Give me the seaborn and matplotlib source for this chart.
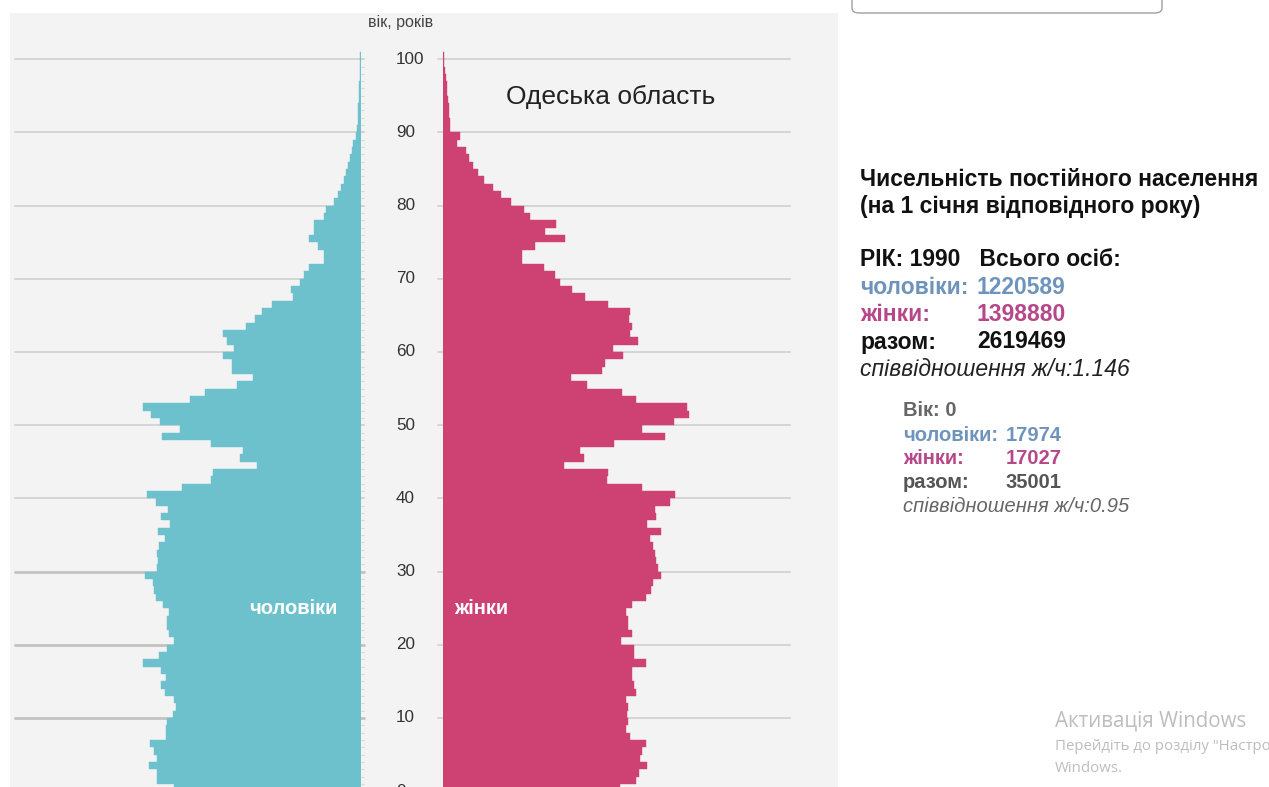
import numpy as np
import pandas as pd
import matplotlib
matplotlib.use("Agg")
import matplotlib.pyplot as plt
import seaborn as sns
from matplotlib.patches import Rectangle, FancyBboxPatch
from matplotlib.transforms import blended_transform_factory

# ---------------- data (Одеська область, 1990) ----------------
ages = list(range(0, 101))
men = [17974, 19620, 19600, 20390, 19670, 19930, 20320, 18810, 18810, 18710,
       18130, 17840, 17980, 18900, 19290, 18810, 19260, 20960, 19420, 18650,
       17980, 18460, 18650, 18710, 18460, 19040, 19740, 19930, 20000, 20800,
       19620, 19520, 19620, 19420, 18900, 19520, 18390, 19290, 18610, 19740,
       20580, 17270, 14450, 14280, 10040, 11620, 11390, 14450, 19160, 17430,
       19360, 20190, 21020, 16470, 15050, 11970, 10370, 12450, 12390, 13260,
       12260, 12900, 13260, 11070, 10210, 9500, 8570, 6580, 6710, 5900,
       5490, 5010, 3590, 3590, 4110, 5010, 4500, 4500, 3530, 3370,
       2570, 2210, 1930, 1670, 1470, 1220, 1030, 870, 740, 510,
       340, 320, 290, 260, 220, 190, 170, 140, 120, 100,
       100]
women = [17027, 18560, 18870, 19670, 18940, 19190, 19580, 17980, 17590, 17790,
         17720, 17840, 17590, 18610, 18420, 18230, 18230, 19520, 18420, 18420,
         17140, 18230, 17790, 17840, 17590, 18170, 19520, 20000, 20250, 21020,
         20700, 20480, 20420, 20190, 19930, 20960, 19670, 20480, 20420, 21860,
         22340, 19130, 15820, 15890, 11620, 13580, 13220, 16440, 21380, 19130,
         22250, 23690, 23530, 18610, 17210, 13870, 12300, 15340, 15570, 17310,
         16400, 18750, 17980, 18230, 17940, 18040, 15860, 13670, 12450, 11300,
         10790, 9730, 7580, 7640, 8860, 11750, 9820, 10850, 8380, 7830,
         6520, 5560, 4840, 3950, 3400, 2920, 2530, 2210, 1320, 1640,
         670, 630, 580, 530, 480, 430, 390, 290, 190, 140,
         100]
grid_ages = list(range(0, 101, 10))
region = "Одеська область"
year = 1990
tot_men, tot_women = 1220589, 1398880
sel_age, sel_men, sel_women = 0, 17974, 17027

MEN_C = "#6cc1cd"
WOM_C = "#cd4272"
MEN_T = "#6f94bb"
WOM_T = "#b6488a"

W, H = 1269, 787
def fx(x): return x / W
def fy(y): return 1 - y / H

sns.set_theme(style="white")
plt.rcParams["font.family"] = ["Liberation Sans", "DejaVu Sans"]

fig = plt.figure(figsize=(W / 100, H / 100), dpi=100)
fig.patch.set_facecolor("white")

# grey panel (behind the axes)
fig.patches.append(Rectangle((fx(10), 0), fx(838) - fx(10), fy(13), transform=fig.transFigure,
                             facecolor="#f3f3f3", edgecolor="none", zorder=-5))
# top-right box edge
fig.patches.append(FancyBboxPatch((fx(852), fy(13)), fx(1162) - fx(852), 0.05,
                                  boxstyle="round,pad=0,rounding_size=0.006",
                                  transform=fig.transFigure, facecolor="white",
                                  edgecolor="#a0a0a0", linewidth=1.0, zorder=1))

px_per_year = 7.32
y0_px, ytop_px = 791.2, 40.0
ytop = (y0_px - ytop_px) / px_per_year
scale = 96.3  # persons per pixel
bottom = fy(y0_px)
height = (y0_px - ytop_px) / H

axm = fig.add_axes([fx(13), bottom, fx(361) - fx(13), height])
axw = fig.add_axes([fx(443), bottom, fx(790) - fx(443), height])

df_m = pd.DataFrame({"age": np.array(ages) + 0.5, "n": men})
df_w = pd.DataFrame({"age": np.array(ages) + 0.5, "n": women})

sns.barplot(data=df_m, x="n", y="age", orient="y", native_scale=True, width=1.0,
            color=MEN_C, saturation=1, errorbar=None, ax=axm,
            edgecolor=MEN_C, linewidth=0.3, zorder=3)
sns.barplot(data=df_w, x="n", y="age", orient="y", native_scale=True, width=1.0,
            color=WOM_C, saturation=1, errorbar=None, ax=axw,
            edgecolor=WOM_C, linewidth=0.3, zorder=3)

axm.set_xlim((361 - 13) * scale, 0)
axw.set_xlim(0, (790 - 443) * scale)
for ax in (axm, axw):
    ax.set_ylim(0, ytop)
    ax.set_facecolor("none")
    for s in ax.spines.values():
        s.set_visible(False)
    ax.set_xticks([])
    ax.set_xlabel("")
    ax.set_ylabel("")
    ax.set_yticks(ages)
    ax.set_yticklabels([])

axm.yaxis.tick_right()
axm.tick_params(axis="y", which="both", direction="out", length=2, width=0.6, color="#d0d0d0")
axw.tick_params(axis="y", which="both", direction="out", length=3.5, width=0.6, color="#d0d0d0")

for a in grid_ages:
    heavy = a in (10, 20, 30)
    axm.axhline(a, xmin=2 / 348, xmax=1 + 3 / 348, clip_on=False, color="#c2c2c2" if heavy else "#d2d2d2",
                lw=2.0 if heavy else 1.3, zorder=1)
    axw.axhline(a, xmin=-5 / 347, xmax=1, clip_on=False, color="#d2d2d2", lw=1.3, zorder=1)

tr = blended_transform_factory(fig.transFigure, axm.transData)
for a in grid_ages:
    axm.text(fx(396), a, str(a), transform=tr, ha="left", va="center",
             fontsize=12.3, color="#333333", clip_on=False)

fig.text(fx(401), fy(22), "вік, років", ha="center", va="center", fontsize=11.5,
         color="#444444", family=["Liberation Sans Narrow", "Liberation Sans", "DejaVu Sans"])
fig.text(fx(506), fy(97), region, ha="left", va="center", fontsize=19, color="#222222")
fig.text(fx(293), fy(609), "чоловіки", ha="center", va="center", fontsize=14.5,
         color="white", fontweight="bold")
fig.text(fx(481), fy(609), "жінки", ha="center", va="center", fontsize=14.5,
         color="white", fontweight="bold")

# right panel
bs = 16.5
fig.text(fx(860), fy(179), "Чисельність постійного населення", ha="left", va="center",
         fontsize=bs, fontweight="bold", color="#111111")
fig.text(fx(860), fy(207), "(на 1 січня відповідного року)", ha="left", va="center",
         fontsize=bs, fontweight="bold", color="#111111")
fig.text(fx(860), fy(260), f"РІК: {year}   Всього осіб:", ha="left", va="center",
         fontsize=bs, fontweight="bold", color="#111111")
rows = [("чоловіки:", tot_men, MEN_T, 288), ("жінки:", tot_women, WOM_T, 315),
        ("разом:", tot_men + tot_women, "#111111", 342)]
for lab, val, col, y in rows:
    fig.text(fx(860), fy(y), lab, ha="left", va="center", fontsize=bs, fontweight="bold", color=col)
    fig.text(fx(977), fy(y), str(val), ha="left", va="center", fontsize=bs, fontweight="bold", color=col)
fig.text(fx(860), fy(370), f"співвідношення ж/ч:{tot_women / tot_men:.3f}", ha="left", va="center",
         fontsize=bs, style="italic", color="#222222")

ss = 14.5
fig.text(fx(903), fy(411), f"Вік: {sel_age}", ha="left", va="center", fontsize=ss,
         fontweight="bold", color="#666666")
rows2 = [("чоловіки:", sel_men, MEN_T, 435), ("жінки:", sel_women, WOM_T, 459),
         ("разом:", sel_men + sel_women, "#555555", 483)]
for lab, val, col, y in rows2:
    fig.text(fx(903), fy(y), lab, ha="left", va="center", fontsize=ss, fontweight="bold", color=col)
    fig.text(fx(1006), fy(y), str(val), ha="left", va="center", fontsize=ss, fontweight="bold", color=col)
fig.text(fx(903), fy(507), f"співвідношення ж/ч:{sel_women / sel_men:.2f}", ha="left", va="center",
         fontsize=ss, style="italic", color="#666666")

# OS watermark
fig.text(fx(1055), fy(721), "Активація Windows", ha="left", va="center", fontsize=14.8,
         color="#bdbdbd", family=["Open Sans", "DejaVu Sans"])
fig.text(fx(1055), fy(746), "Перейдіть до розділу \"Настройки\"", ha="left",
         va="center", fontsize=10.8, color="#bdbdbd", family=["Open Sans", "DejaVu Sans"])
fig.text(fx(1055), fy(768), "Windows.", ha="left", va="center", fontsize=10.8,
         color="#bdbdbd", family=["Open Sans", "DejaVu Sans"])

fig.savefig("out.png", dpi=100, facecolor="white")
